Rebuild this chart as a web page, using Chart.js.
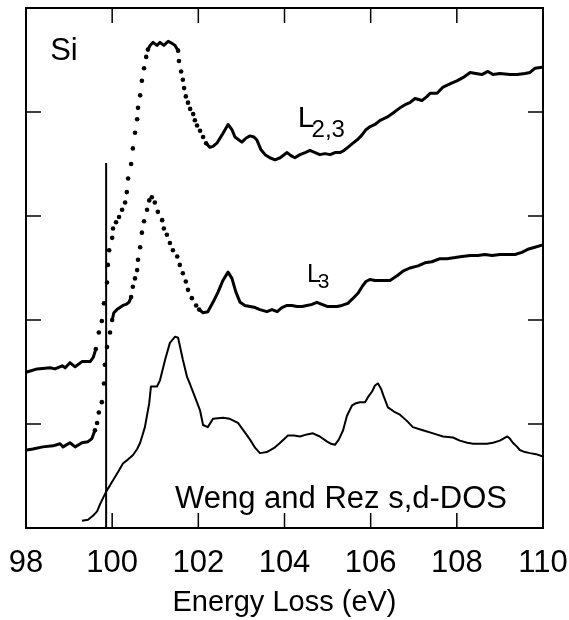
<!DOCTYPE html>
<html>
<head>
<meta charset="utf-8">
<script src="https://cdn.jsdelivr.net/npm/chart.js@4.4.1/dist/chart.umd.min.js"></script>
<style>
  html, body { margin: 0; padding: 0; background: #fff; }
  canvas { display: block; }
</style>
</head>
<body>
<canvas id="myChart" width="569" height="620"></canvas>
<script>
// Si L2,3 edge, energy loss (eV) vs intensity (offset, arbitrary units)
var l23Energy = [98.02,98.26,98.56,98.67,98.84,98.91,99.02,99.14,99.30,99.42,99.49,99.56,99.62,
  99.69,99.76,99.81,99.88,99.90,99.93,100.00,100.02,100.09,100.16,100.23,100.30,100.34,100.37,100.44,100.48,100.53,100.58,100.60,100.65,100.69,100.74,100.79,100.83,
  100.88,100.95,101.04,101.11,101.20,101.30,101.39,101.46,
  101.53,101.55,101.60,101.64,101.67,101.71,101.76,101.81,101.88,101.92,101.97,102.04,102.11,102.18,
  102.27,102.34,102.43,102.55,102.69,102.78,102.85,103.01,103.11,103.20,103.29,103.36,103.45,103.55,103.66,103.78,103.90,104.06,104.15,104.24,
  104.36,104.48,104.59,104.71,104.82,104.94,105.06,105.17,105.29,105.38,105.47,105.59,105.71,105.80,105.89,105.99,106.10,106.22,106.38,106.52,
  106.68,106.80,106.91,107.03,107.19,107.31,107.38,107.54,107.68,107.84,108.00,108.14,108.31,108.44,108.58,108.72,108.84,109.00,109.23,109.40,
  109.58,109.70,109.81,109.98];
var l23Value = [1.50,1.53,1.54,1.53,1.56,1.54,1.59,1.55,1.60,1.60,1.60,1.64,1.72,
  1.88,1.99,2.16,2.36,2.53,2.67,2.79,2.88,2.94,2.99,3.06,3.13,3.23,3.36,3.50,3.65,3.80,3.93,4.04,4.16,4.30,4.42,4.53,4.60,
  4.64,4.67,4.64,4.67,4.64,4.68,4.66,4.64,
  4.59,4.49,4.39,4.31,4.23,4.15,4.09,4.03,3.98,3.92,3.87,3.82,3.76,3.70,
  3.66,3.67,3.70,3.78,3.88,3.83,3.76,3.71,3.75,3.77,3.76,3.73,3.64,3.59,3.56,3.54,3.56,3.61,3.58,3.56,
  3.59,3.61,3.63,3.61,3.59,3.60,3.59,3.61,3.61,3.63,3.66,3.70,3.74,3.78,3.83,3.86,3.88,3.92,3.95,3.99,
  4.04,4.07,4.09,4.13,4.11,4.15,4.18,4.18,4.24,4.27,4.30,4.33,4.38,4.37,4.36,4.39,4.36,4.37,4.36,4.36,
  4.37,4.38,4.42,4.43];
var l23Dotted = [[99.62, 100.83], [101.53, 102.18]];

var l3Energy = [98.02,98.16,98.39,98.63,98.79,98.86,99.02,99.14,99.30,99.44,99.53,
  99.60,99.65,99.69,99.76,99.81,99.83,99.88,99.95,100.00,
  100.04,100.11,100.18,100.25,100.32,100.39,
  100.44,100.48,100.53,100.58,100.60,100.65,100.69,100.74,100.81,100.86,100.92,100.99,101.06,101.16,101.20,101.27,101.34,101.41,101.51,101.57,101.64,101.71,101.76,101.85,101.95,102.02,
  102.11,102.22,102.34,102.46,102.57,102.69,102.78,102.87,102.97,103.08,103.20,103.32,103.43,103.59,103.71,103.83,103.94,104.06,104.17,104.29,
  104.41,104.52,104.64,104.75,104.87,104.99,105.10,105.22,105.33,105.47,105.57,105.71,105.80,105.89,105.99,106.10,106.22,106.33,106.45,106.56,
  106.63,106.75,106.91,107.10,107.26,107.42,107.61,107.77,107.96,108.12,108.31,108.49,108.65,108.82,109.00,109.19,109.35,109.51,109.65,109.81,
  109.98];
var l3Value = [0.75,0.76,0.78,0.79,0.81,0.78,0.82,0.78,0.82,0.83,0.86,
  0.94,1.01,1.11,1.21,1.39,1.57,1.74,1.88,2.00,
  2.07,2.10,2.12,2.14,2.15,2.17,
  2.22,2.32,2.40,2.48,2.58,2.70,2.84,2.95,3.06,3.15,3.18,3.13,3.04,2.96,2.88,2.82,2.74,2.67,2.61,2.53,2.45,2.37,2.29,2.21,2.14,2.10,
  2.07,2.08,2.17,2.27,2.38,2.46,2.40,2.27,2.17,2.14,2.13,2.12,2.10,2.08,2.10,2.08,2.12,2.14,2.14,2.13,
  2.13,2.14,2.15,2.17,2.15,2.13,2.13,2.13,2.14,2.16,2.20,2.26,2.32,2.37,2.39,2.38,2.38,2.38,2.38,2.41,
  2.43,2.47,2.50,2.52,2.55,2.56,2.59,2.59,2.60,2.61,2.62,2.62,2.63,2.62,2.63,2.63,2.63,2.65,2.68,2.70,
  2.72];
var l3Dotted = [[99.60, 100.00], [100.44, 102.02]];

// Weng and Rez s,d-DOS
var dosEnergy = [99.30,99.44,99.56,99.65,99.72,99.79,99.86,99.95,100.02,100.14,
  100.25,100.37,100.48,100.58,100.65,100.76,100.86,100.90,101.04,101.11,
  101.23,101.34,101.46,101.53,101.64,101.74,101.81,101.92,102.04,102.11,
  102.22,102.34,102.57,102.73,102.92,103.08,103.20,103.32,103.43,103.59,
  103.76,103.90,104.08,104.22,104.36,104.52,104.66,104.82,104.99,105.08,
  105.17,105.26,105.36,105.45,105.57,105.66,105.75,105.87,105.94,106.03,
  106.10,106.17,106.24,106.29,106.40,106.54,106.68,106.84,106.98,107.21,
  107.45,107.68,107.91,108.07,108.24,108.38,108.54,108.70,108.84,109.00,
  109.17,109.23,109.30,109.40,109.46,109.58,109.70,109.84,109.98];
var dosValue = [0.07,0.08,0.12,0.16,0.23,0.29,0.35,0.41,0.46,0.54,
  0.62,0.66,0.70,0.76,0.82,0.97,1.20,1.36,1.36,1.42,
  1.62,1.78,1.84,1.83,1.62,1.45,1.38,1.26,1.13,0.99,
  0.97,1.05,1.06,1.05,1.01,0.92,0.85,0.77,0.72,0.73,
  0.77,0.82,0.89,0.89,0.88,0.90,0.91,0.88,0.83,0.81,
  0.80,0.85,0.94,1.08,1.18,1.20,1.21,1.21,1.26,1.31,
  1.37,1.39,1.34,1.28,1.16,1.12,1.09,1.03,0.97,0.94,
  0.91,0.88,0.87,0.84,0.82,0.81,0.81,0.81,0.82,0.84,
  0.88,0.86,0.82,0.78,0.75,0.73,0.72,0.71,0.69];

// edge onset marker
var onsetEnergy = [99.86, 99.86];
var onsetValue = [0, 3.51];

var FONT = "'Liberation Sans', Arial, sans-serif";

var notes = [
  { text: 'Si', x: 98.56, y: 4.50, size: 31 },
  { text: 'L', sub: '2,3', x: 104.31, y: 3.86, size: 30, subSize: 24, subDrop: 10 },
  { text: 'L', sub: '3', x: 104.52, y: 2.37, size: 25, subSize: 21, subDrop: 6 },
  { text: 'Weng and Rez s,d-DOS', x: 101.46, y: 0.19, size: 31 }
];

function zip(xs, ys) {
  return xs.map(function (x, i) { return { x: x, y: ys[i] }; });
}
function inRange(ranges, v) {
  return ranges.some(function (r) { return v >= r[0] - 1e-9 && v <= r[1] + 1e-9; });
}
function hiddenSeg(ranges) {
  return function (c) {
    var a = c.p0.parsed.x, b = c.p1.parsed.x;
    var dotted = ranges.some(function (r) { return a >= r[0] - 1e-9 && b <= r[1] + 1e-9; });
    return dotted ? 'rgba(0,0,0,0)' : undefined;
  };
}
function spectrum(label, xs, ys, dotted) {
  return {
    label: label,
    data: zip(xs, ys),
    showLine: true,
    borderColor: '#000',
    borderWidth: 3,
    borderJoinStyle: 'round',
    borderCapStyle: 'round',
    pointBackgroundColor: '#000',
    pointBorderWidth: 0,
    pointRadius: function (c) { return c.raw && inRange(dotted, c.raw.x) ? 2.3 : 0; },
    segment: { borderColor: hiddenSeg(dotted) }
  };
}

var framePlugin = {
  id: 'frame',
  afterDatasetsDraw: function (chart) {
    var ctx = chart.ctx, a = chart.chartArea, s = chart.scales;
    var len = 15;
    ctx.save();
    ctx.strokeStyle = '#000';
    ctx.lineWidth = 2;
    ctx.strokeRect(a.left, a.top, a.right - a.left, a.bottom - a.top);
    ctx.lineWidth = 1.5;
    ctx.beginPath();
    s.x.ticks.forEach(function (t) {
      if (t.value <= s.x.min || t.value >= s.x.max) return;
      var px = s.x.getPixelForValue(t.value);
      ctx.moveTo(px, a.bottom); ctx.lineTo(px, a.bottom - len);
    });
    s.xTop.ticks.forEach(function (t) {
      if (t.value <= s.xTop.min || t.value >= s.xTop.max) return;
      var px = s.xTop.getPixelForValue(t.value);
      ctx.moveTo(px, a.top); ctx.lineTo(px, a.top + len);
    });
    s.y.ticks.forEach(function (t) {
      if (t.value <= s.y.min || t.value >= s.y.max) return;
      var py = s.y.getPixelForValue(t.value);
      ctx.moveTo(a.left, py); ctx.lineTo(a.left + len, py);
      ctx.moveTo(a.right, py); ctx.lineTo(a.right - len, py);
    });
    ctx.stroke();

    // text labels
    ctx.fillStyle = '#000';
    ctx.textBaseline = 'alphabetic';
    ctx.textAlign = 'left';
    notes.forEach(function (n) {
      var px = s.x.getPixelForValue(n.x), py = s.y.getPixelForValue(n.y);
      ctx.font = n.size + 'px ' + FONT;
      ctx.fillText(n.text, px, py);
      if (n.sub) {
        var w = ctx.measureText(n.text).width;
        ctx.font = n.subSize + 'px ' + FONT;
        ctx.fillText(n.sub, px + w - 3, py + n.subDrop);
      }
    });
    ctx.restore();
  }
};

var ctx = document.getElementById('myChart').getContext('2d');
var myChart = new Chart(ctx, {
  type: 'scatter',
  data: {
    datasets: [
      spectrum('L2,3', l23Energy, l23Value, l23Dotted),
      spectrum('L3', l3Energy, l3Value, l3Dotted),
      {
        label: 'Weng and Rez s,d-DOS',
        data: zip(dosEnergy, dosValue),
        showLine: true,
        borderColor: '#000',
        borderWidth: 2,
        borderJoinStyle: 'round',
        pointRadius: 0
      },
      {
        label: 'onset',
        data: zip(onsetEnergy, onsetValue),
        showLine: true,
        borderColor: '#000',
        borderWidth: 2,
        pointRadius: 0
      }
    ]
  },
  options: {
    responsive: false,
    animation: false,
    layout: { padding: { left: 26, right: 26, top: 8, bottom: 0 } },
    plugins: {
      legend: { display: false },
      tooltip: { enabled: false }
    },
    scales: {
      x: {
        type: 'linear',
        position: 'bottom',
        min: 98,
        max: 110,
        ticks: { stepSize: 2, padding: 17, color: '#000', font: { family: FONT, size: 31 } },
        grid: { display: false, drawTicks: false },
        border: { display: false },
        title: {
          display: true,
          text: 'Energy Loss (eV)',
          color: '#000',
          font: { family: FONT, size: 29 },
          padding: { top: 0, bottom: 0 }
        },
        afterFit: function (scale) {
          scale.height = 92;
          scale.paddingLeft = 0;
          scale.paddingRight = 0;
        }
      },
      xTop: {
        type: 'linear',
        position: 'top',
        display: false,
        min: 0,
        max: 6,
        ticks: { stepSize: 1 }
      },
      y: {
        type: 'linear',
        display: false,
        min: 0,
        max: 5,
        ticks: { stepSize: 1 }
      }
    }
  },
  plugins: [framePlugin]
});
</script>
</body>
</html>
